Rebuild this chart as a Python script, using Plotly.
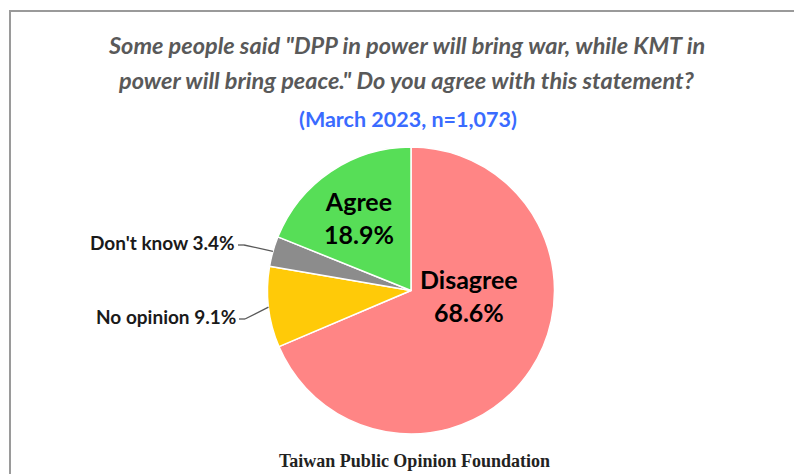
import math
import plotly.graph_objects as go

labels = ["Disagree", "No opinion", "Don't know", "Agree"]
values = [68.6, 9.1, 3.4, 18.9]
colors = ["#FF8585", "#FFCA08", "#8C8C8C", "#57DE57"]

# the page body adds an 8px margin, so the figure is drawn offset by (8, 8)
OX, OY = 8, 8
FW, FH = 794, 466
CX, CY, R = 411, 290.5, 143.5  # pie centre / radius in reference pixels

def px(x):
    return (x - OX) / FW

def py(y):
    return 1 - (y - OY) / FH

fig = go.Figure(go.Pie(
    labels=labels, values=values, sort=False, direction="clockwise", rotation=0,
    marker=dict(colors=colors, line=dict(color="white", width=1.5)),
    textinfo="none", hoverinfo="label+percent", showlegend=False,
    domain=dict(x=[px(CX - R), px(CX + R)], y=[py(CY + R), py(CY - R)]),
))

# mid-angles of each slice (clockwise from 12 o'clock)
total = sum(values)
mids = []
acc = 0
for v in values:
    mids.append((acc + v / 2) / total * 360)
    acc += v

def edge(i, rr=R):
    a = math.radians(mids[i])
    return CX + rr * math.sin(a), CY - rr * math.cos(a)

font = "Lato"
ann = []
# inside labels
ann.append(dict(x=px(469), y=py(295), text="<b>Disagree<br>68.6%</b>", showarrow=False,
                font=dict(family=font, size=25, color="black"), xanchor="center", yanchor="middle"))
ann.append(dict(x=px(359), y=py(217), text="<b>Agree<br>18.9%</b>", showarrow=False,
                font=dict(family=font, size=25, color="black"), xanchor="center", yanchor="middle"))
# outside labels with leader lines
outside = [(2, "Don't know 3.4%", 237, 242), (1, "No opinion 9.1%", 238, 316)]
shapes = []
for i, txt, tx, ty in outside:
    ann.append(dict(x=px(tx), y=py(ty), text="<b>" + txt + "</b>", showarrow=False,
                    font=dict(family=font, size=19, color="#1a1a1a"), xanchor="right", yanchor="middle"))
    ex, ey = edge(i)
    shapes.append(dict(type="line", xref="paper", yref="paper",
                       x0=px(tx + 1), y0=py(ty + 3), x1=px(tx + 7), y1=py(ty + 3),
                       line=dict(color="#595959", width=1.3)))
    shapes.append(dict(type="line", xref="paper", yref="paper",
                       x0=px(tx + 7), y0=py(ty + 3), x1=px(ex), y1=py(ey),
                       line=dict(color="#595959", width=1.3)))

# titles
ann.append(dict(x=px(406), y=py(45), text="<b><i>Some people said \"DPP in power will bring war, while KMT in</i></b>",
                showarrow=False, font=dict(family=font, size=23.5, color="#595959"), xanchor="center", yanchor="middle"))
ann.append(dict(x=px(406), y=py(80), text="<b><i>power will bring peace.\" Do you agree with this statement?</i></b>",
                showarrow=False, font=dict(family=font, size=23.5, color="#595959"), xanchor="center", yanchor="middle"))
ann.append(dict(x=px(408), y=py(119), text="<b>(March 2023, n=1,073)</b>",
                showarrow=False, font=dict(family=font, size=21.5, color="#3A6BFF"), xanchor="center", yanchor="middle"))
ann.append(dict(x=px(414), y=py(461), text="<b>Taiwan Public Opinion Foundation</b>",
                showarrow=False, font=dict(family="Liberation Serif", size=18, color="#222222"), xanchor="center", yanchor="middle"))

# frame
shapes.append(dict(type="rect", xref="paper", yref="paper", x0=px(10), y0=py(500), x1=px(830), y1=py(11),
                   line=dict(color="#9a9a9a", width=2), fillcolor="rgba(0,0,0,0)"))

fig.update_layout(width=FW, height=FH, margin=dict(l=0, r=0, t=0, b=0),
                  paper_bgcolor="white", plot_bgcolor="white",
                  annotations=ann, shapes=shapes)
fig.write_html("out.html")
